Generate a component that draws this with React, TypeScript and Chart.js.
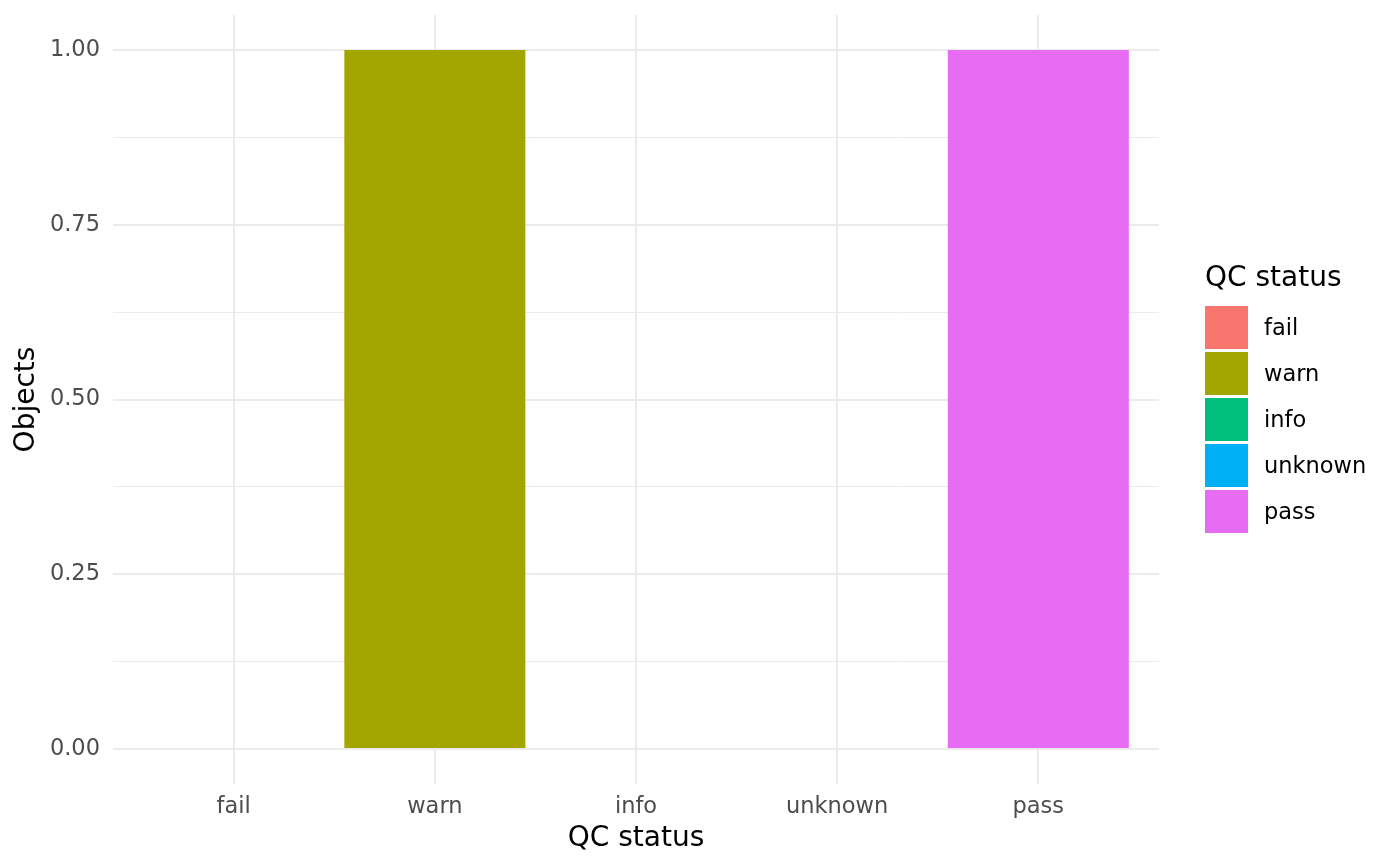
import React, { useEffect, useRef } from "react";
import { Chart, registerables } from "chart.js";

Chart.register(...registerables);

const categories = ["fail", "warn", "info", "unknown", "pass"];
const counts = [0, 1, 0, 0, 1];
const colors = ["#F8766D", "#A3A500", "#00BF7D", "#00B0F6", "#E76BF3"];
const yTicks = [0, 0.125, 0.25, 0.375, 0.5, 0.625, 0.75, 0.875, 1];
const yMajor = [0, 0.25, 0.5, 0.75, 1];

const FONT = "'DejaVu Sans', sans-serif";

export default function App() {
  const ref = useRef<HTMLCanvasElement | null>(null);

  useEffect(() => {
    if (!ref.current) return;
    const isMajor = (v: number) => yMajor.some((m) => Math.abs(m - v) < 1e-9);
    const chart = new Chart(ref.current, {
      type: "bar",
      data: {
        datasets: [
          {
            label: "QC status",
            data: categories.map((c, i) => ({ x: i, y: counts[i] })),
            backgroundColor: colors,
            borderWidth: 0,
            categoryPercentage: 0.9,
            barPercentage: 1,
          },
        ],
      },
      options: {
        animation: false,
        responsive: false,
        layout: { padding: { top: 15, right: 241, left: 0, bottom: 0 } },
        plugins: { legend: { display: false }, tooltip: { enabled: false } },
        scales: {
          x: {
            type: "linear",
            offset: false,
            min: -0.6,
            max: categories.length - 1 + 0.6,
            afterBuildTicks: (axis: any) => {
              axis.ticks = categories.map((_, i) => ({ value: i }));
            },
            afterFit: (scale: any) => {
              scale.height = 82;
              scale.paddingLeft = 0;
              scale.paddingRight = 0;
            },
            ticks: {
              autoSkip: false,
              maxRotation: 0,
              padding: 10,
              color: "#4D4D4D",
              font: { family: FONT, size: 22.5 },
              callback: (v: any) => categories[Math.round(Number(v))] ?? "",
            },
            grid: { color: "#EBEBEB", lineWidth: 2, drawTicks: false, offset: false },
            border: { display: false },
            title: {
              display: true,
              text: "QC status",
              color: "#000000",
              font: { family: FONT, size: 28 },
              padding: { top: 0, bottom: 10 },
            },
          },
          y: {
            type: "linear",
            min: -0.05,
            max: 1.05,
            afterBuildTicks: (axis: any) => {
              axis.ticks = yTicks.map((v) => ({ value: v }));
            },
            afterFit: (scale: any) => {
              scale.width = 113;
              scale.paddingTop = 0;
              scale.paddingBottom = 0;
            },
            ticks: {
              autoSkip: false,
              padding: 13,
              color: "#4D4D4D",
              font: { family: FONT, size: 22.5 },
              callback: (v: any) => (isMajor(Number(v)) ? Number(v).toFixed(2) : ""),
            },
            grid: {
              color: "#EBEBEB",
              lineWidth: (ctx: any) => (isMajor(ctx.tick?.value ?? 0) ? 2 : 1),
              drawTicks: false,
            },
            border: { display: false },
            title: {
              display: true,
              text: "Objects",
              color: "#000000",
              font: { family: FONT, size: 28 },
              padding: { top: 10, bottom: 0 },
            },
          },
        },
      },
    } as any);
    return () => chart.destroy();
  }, []);

  return (
    <div style={{ position: "absolute", left: 0, top: 0, width: 1400, height: 866, background: "#fff" }}>
      <canvas ref={ref} width={1400} height={866} style={{ width: 1400, height: 866, display: "block" }} />
      <div style={{ position: "absolute", left: 1205, top: 0, fontFamily: FONT }}>
        <div style={{ position: "absolute", left: 0, top: 260, fontSize: 28, lineHeight: "34px", color: "#000", whiteSpace: "nowrap" }}>
          QC status
        </div>
        {categories.map((c, i) => (
          <div key={c} style={{ position: "absolute", left: 0, top: 306 + i * 46, height: 43, whiteSpace: "nowrap" }}>
            <div style={{ position: "absolute", left: 0, top: 0, width: 43, height: 43, background: colors[i] }} />
            <div style={{ position: "absolute", left: 59, top: 0, height: 43, lineHeight: "43px", fontSize: 22.5, color: "#000" }}>
              {c}
            </div>
          </div>
        ))}
      </div>
    </div>
  );
}
